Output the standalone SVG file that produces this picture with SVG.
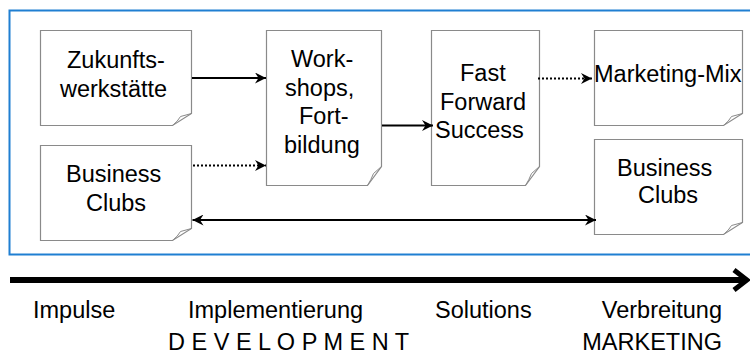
<svg xmlns="http://www.w3.org/2000/svg" width="750" height="356" viewBox="0 0 750 356">
<style>
.t{font-family:"Liberation Sans",Arial,sans-serif;font-size:23.5px;fill:#000}
.box{fill:#fff;stroke:#8a8a8a;stroke-width:1.2}
.fold{fill:none;stroke:#8a8a8a;stroke-width:1}
.c{fill:none;stroke:#000;stroke-width:2.2}
.dot{stroke-dasharray:2 2}
</style>
<defs>
<marker id="ah" markerUnits="userSpaceOnUse" markerWidth="11" markerHeight="11" refX="11" refY="5.5" orient="auto-start-reverse">
<path d="M0,0 L11,5.5 L0,11 L3.5,5.5 Z" fill="#000"/>
</marker>
</defs>
<rect x="9.5" y="10.5" width="760" height="244" fill="none" stroke="#1f7fd2" stroke-width="2"/>
<g id="zukunft">
<path class="box" d="M40.5,30.5 H191.5 V113.5 L172.5,125.5 H40.5 Z"/>
<path class="fold" d="M191.5,113.5 L180.5,116.5 Q178,121 172.5,125.5"/>
<text class="t" x="67" y="68">Zukunfts-</text>
<text class="t" x="60" y="97">werkstätte</text>
</g>
<g id="bc-left">
<path class="box" d="M40.5,145.5 H191.5 V228.5 L172.5,240.5 H40.5 Z"/>
<path class="fold" d="M191.5,228.5 L180.5,231.5 Q178,236 172.5,240.5"/>
<text class="t" x="66" y="182">Business</text>
<text class="t" x="86" y="211">Clubs</text>
</g>
<g id="workshops">
<path class="box" d="M266.5,30.5 H381.5 V166.5 L367.5,185.5 H266.5 Z"/>
<path class="fold" d="M381.5,166.5 L373.5,173.5 Q371,180 367.5,185.5"/>
<text class="t" x="291" y="67">Work-</text>
<text class="t" x="285" y="96">shops,</text>
<text class="t" x="299" y="124">Fort-</text>
<text class="t" x="284" y="153">bildung</text>
</g>
<g id="fast">
<path class="box" d="M431.5,30.5 H539.5 V166.5 L525.5,185.5 H431.5 Z"/>
<path class="fold" d="M539.5,166.5 L531.5,173.5 Q529,180 525.5,185.5"/>
<text class="t" x="460" y="81">Fast</text>
<text class="t" x="440" y="110">Forward</text>
<text class="t" x="435" y="138">Success</text>
</g>
<g id="marketing">
<path class="box" d="M594.5,30.5 H742.5 V113.5 L723.5,125.5 H594.5 Z"/>
<path class="fold" d="M742.5,113.5 L731.5,116.5 Q729,121 723.5,125.5"/>
<text class="t" x="594" y="82">Marketing-Mix</text>
</g>
<g id="bc-right">
<path class="box" d="M594.5,139.5 H742.5 V222.5 L723.5,234.5 H594.5 Z"/>
<path class="fold" d="M742.5,222.5 L731.5,225.5 Q729,230 723.5,234.5"/>
<text class="t" x="617" y="176">Business</text>
<text class="t" x="638" y="203">Clubs</text>
</g>
<g id="connectors">
<line class="c" x1="192" y1="78" x2="266" y2="78" marker-end="url(#ah)"/>
<line class="c dot" x1="193" y1="165.5" x2="266" y2="165.5" marker-end="url(#ah)"/>
<line class="c" x1="382" y1="125.5" x2="433" y2="125.5" marker-end="url(#ah)"/>
<line class="c dot" x1="538" y1="78.5" x2="592" y2="78.5" marker-end="url(#ah)"/>
<line class="c" x1="192.5" y1="220" x2="596" y2="220" marker-start="url(#ah)" marker-end="url(#ah)"/>
</g>
<g id="axis">
<line x1="10" y1="280" x2="744" y2="280" stroke="#000" stroke-width="6"/>
<polyline points="734,270 747,280 734,290" fill="none" stroke="#000" stroke-width="5" stroke-linejoin="miter"/>
</g>
<g id="labels">
<text class="t" x="33" y="318">Impulse</text>
<text class="t" x="188" y="318">Implementierung</text>
<text class="t" x="168" y="350">D E V E L O P M E N T</text>
<text class="t" x="435" y="318">Solutions</text>
<text class="t" x="722" y="318" text-anchor="end">Verbreitung</text>
<text class="t" x="722" y="350" text-anchor="end">MARKETING</text>
</g>
</svg>
